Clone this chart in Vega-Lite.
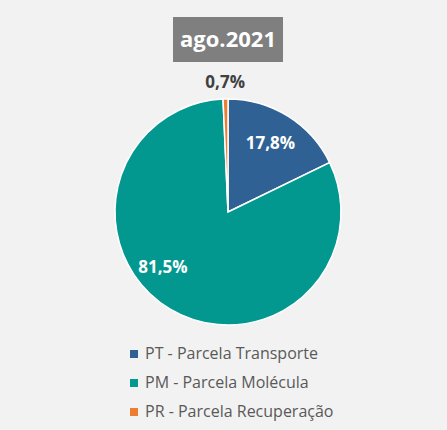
{
  "$schema": "https://vega.github.io/schema/vega-lite/v6.json",
  "background": "#F2F2F2",
  "padding": {"left": 9, "top": 17, "right": 0, "bottom": 10},
  "spacing": 10,
  "center": true,
  "config": {"view": {"stroke": null}},
  "datasets": {
    "t": [{"title": "ago.2021"}],
    "d": [
      {"cat": "PT - Parcela Transporte", "value": 17.8, "label": "17,8%", "idx": 1},
      {"cat": "PM - Parcela Molécula", "value": 81.5, "label": "81,5%", "idx": 2},
      {"cat": "PR - Parcela Recuperação", "value": 0.7, "label": "0,7%", "idx": 3}
    ]
  },
  "vconcat": [
    {
      "width": 110,
      "height": 45,
      "data": {"name": "t"},
      "view": {"fill": "#7F7F7F", "stroke": null},
      "mark": {"type": "text", "font": "Open Sans", "fontWeight": "bold", "fontSize": 22, "color": "white", "baseline": "middle", "align": "center"},
      "encoding": {"text": {"field": "title", "type": "nominal"}}
    },
    {
      "width": 438,
      "height": 280,
      "data": {"name": "d"},
      "encoding": {
        "theta": {"field": "value", "type": "quantitative", "stack": true},
        "order": {"field": "idx", "type": "quantitative"},
        "color": {
          "field": "cat",
          "type": "nominal",
          "sort": ["PT - Parcela Transporte", "PM - Parcela Molécula", "PR - Parcela Recuperação"],
          "scale": {
            "domain": ["PT - Parcela Transporte", "PM - Parcela Molécula", "PR - Parcela Recuperação"],
            "range": ["#2F6194", "#03988F", "#ED7D31"]
          },
          "legend": {
            "orient": "none",
            "legendX": 117,
            "legendY": 329,
            "direction": "vertical",
            "title": null,
            "symbolType": "square",
            "symbolSize": 64,
            "symbolStrokeWidth": 0,
            "labelFont": "Open Sans",
            "labelFontSize": 16,
            "labelColor": "#595959",
            "labelOffset": 3,
            "labelLimit": 400,
            "rowPadding": 13
          }
        }
      },
      "layer": [
        {"mark": {"type": "arc", "radius": 113, "stroke": "white", "strokeWidth": 1.5}},
        {
          "mark": {"type": "text", "radius": 80, "font": "Open Sans", "fontWeight": "bold", "fontSize": 17, "color": "white"},
          "encoding": {
            "color": {"value": "white"},
            "text": {"condition": {"test": "datum.idx == 1", "field": "label"}, "value": ""}
          }
        },
        {
          "mark": {"type": "text", "radius": 86, "dx": -21, "dy": -18, "font": "Open Sans", "fontWeight": "bold", "fontSize": 17, "color": "white"},
          "encoding": {
            "color": {"value": "white"},
            "text": {"condition": {"test": "datum.idx == 2", "field": "label"}, "value": ""}
          }
        },
        {
          "mark": {"type": "text", "radius": 129, "font": "Open Sans", "fontWeight": "bold", "fontSize": 17},
          "encoding": {
            "color": {"value": "#404040"},
            "text": {"condition": {"test": "datum.idx == 3", "field": "label"}, "value": ""}
          }
        }
      ]
    }
  ]
}
